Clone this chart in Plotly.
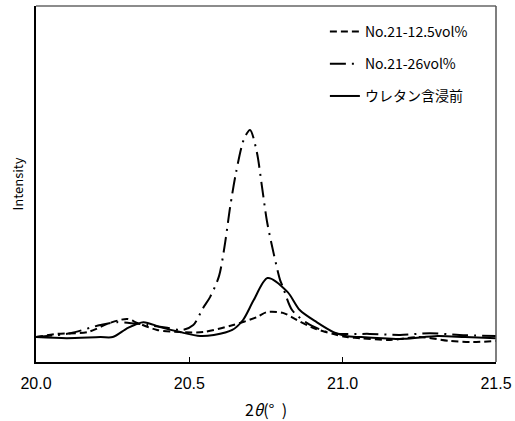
import plotly.graph_objects as go

# ---- data ----
x_125 = [20.0, 20.07, 20.168, 20.242, 20.298, 20.33, 20.395, 20.47, 20.545, 20.643, 20.72,
         20.752, 20.805, 20.851, 20.903, 20.968, 21.014, 21.056, 21.154, 21.252, 21.35, 21.424, 21.5]
y_125 = [7.0, 7.9, 8.4, 11.0, 12.1, 11.0, 9.0, 8.4, 8.4, 10.4, 12.6,
         14.0, 13.8, 11.8, 9.6, 7.9, 7.0, 6.7, 6.2, 7.0, 5.9, 5.6, 5.9]

x_26 = [20.0, 20.112, 20.21, 20.265, 20.363, 20.428, 20.477, 20.513, 20.545, 20.568, 20.597,
        20.617, 20.633, 20.652, 20.678, 20.698, 20.72, 20.737, 20.753, 20.776, 20.796, 20.805,
        20.835, 20.883, 20.948, 20.991, 21.089, 21.187, 21.284, 21.381, 21.5]
y_26 = [7.0, 8.1, 10.4, 11.2, 10.4, 9.6, 9.0, 10.4, 15.2, 18.3, 24.2,
        33.7, 43.5, 53.1, 62.6, 65.2, 59.0, 49.2, 39.6, 30.1, 23.0, 21.1,
        14.6, 11.0, 8.4, 7.9, 7.9, 7.6, 8.1, 7.6, 7.3]

x_pre = [20.0, 20.10, 20.21, 20.25, 20.30, 20.35, 20.405, 20.47, 20.535, 20.58, 20.64, 20.675,
         20.71, 20.755, 20.82, 20.86, 20.915, 20.97, 21.01, 21.06, 21.13, 21.20, 21.31, 21.40, 21.50]
y_pre = [7.0, 6.7, 7.0, 7.0, 9.6, 11.2, 9.8, 8.4, 7.3, 7.6, 9.0, 11.8,
         17.4, 23.6, 19.7, 14.6, 11.2, 8.4, 7.3, 7.0, 6.7, 6.5, 7.3, 7.0, 6.7]

names = ["No.21-12.5vol%", "No.21-26vol%", "ウレタン含浸前"]
x_ticks = [20.0, 20.5, 21.0, 21.5]
x_tick_labels = ["20.0", "20.5", "21.0", "21.5"]

JP = "Noto Sans CJK JP"

fig = go.Figure()
series = [(x_125, y_125, "7px,4px"), (x_26, y_26, "16px,6px,2px,6px"), (x_pre, y_pre, "solid")]
for i, ((xs, ys, dash), nm) in enumerate(zip(series, names)):
    fig.add_trace(go.Scatter(
        x=xs, y=ys, mode="lines", name=nm, legendgroup=str(i),
        line=dict(color="black", width=2, dash=dash, shape="spline", smoothing=0.8),
    ))

fig.update_layout(
    width=515, height=421,
    margin=dict(l=35.5, r=19, t=6, b=59),
    paper_bgcolor="white", plot_bgcolor="white",
    showlegend=True,
    legend=dict(x=0.628, y=0.972, xanchor="left", yanchor="top",
                bgcolor="rgba(0,0,0,0)", traceorder="grouped", tracegroupgap=11,
                font=dict(family=JP, size=14, color="black")),
    xaxis=dict(range=[20.0, 21.5], tickvals=x_ticks, ticktext=x_tick_labels, automargin=False,
               ticks="inside", ticklen=5, tickcolor="black", tickwidth=1, ticklabelstandoff=6,
               showline=True, linecolor="black", linewidth=1.5, showgrid=False, zeroline=False,
               tickfont=dict(family="Liberation Sans", size=16, color="black"),
               title=dict(text="2<i>θ</i>(°  )", font=dict(family=JP, size=16, color="black"),
                          standoff=15)),
    yaxis=dict(range=[0, 100], showticklabels=False, ticks="", showgrid=False, zeroline=False,
               automargin=False,
               showline=True, linecolor="black", linewidth=1.5,
               title=dict(text="Intensity", font=dict(family=JP, size=13, color="black"),
                          standoff=8)),
)

# top and right frame lines (grey)
fig.add_shape(type="line", xref="paper", yref="paper", x0=0, x1=1, y0=1, y1=1,
              line=dict(color="#666666", width=1.5))
fig.add_shape(type="line", xref="paper", yref="paper", x0=1, x1=1, y0=0, y1=1,
              line=dict(color="#555555", width=1.5))

fig.write_html("out.html", config={"displayModeBar": False},
               post_script="document.body.style.margin='0';document.body.style.padding='0';")
